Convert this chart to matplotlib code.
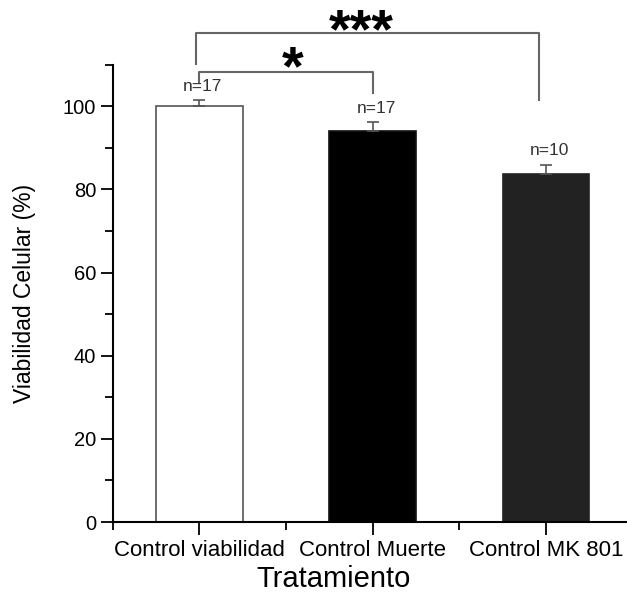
import matplotlib
matplotlib.use("Agg")
import matplotlib.pyplot as plt
import numpy as np
from matplotlib.ticker import MultipleLocator, FixedLocator

plt.rcParams["font.family"] = ["Liberation Sans", "DejaVu Sans"]

groups = ["Control viabilidad", "Control Muerte", "Control MK 801"]
viability = [100.0, 94.1, 83.7]
sem = [1.4, 2.0, 2.2]
n_labels = ["n=17", "n=17", "n=10"]
bar_colors = ["white", "black", "#222222"]
edge_colors = ["#555555", "#111111", "#222222"]

# significance brackets: (x_left, x_right, y_top, y_left_end, y_right_end, text, text_x, text_y)
brackets = [
    (0.0, 1.0, 108.2, 105.6, 103.2, "*", 0.536, 105.3),
    (-0.02, 1.96, 117.6, 110.1, 101.6, "***", 0.934, 114.2),
]

fig = plt.figure(figsize=(6.27, 5.92), dpi=100)
ax = fig.add_axes([0.1797, 0.1182, 0.8296, 0.7725])

x = np.arange(len(groups))
ax.bar(x, viability, width=0.5, color=bar_colors, edgecolor=edge_colors, linewidth=1.2, zorder=2)
ax.errorbar(x, viability, yerr=[np.zeros(len(sem)), sem], fmt="none", ecolor="#555555",
            elinewidth=1.2, capsize=4, capthick=1.2, zorder=3)

for xi, v, e, lab in zip(x, viability, sem, n_labels):
    ax.text(xi + 0.02, v + e + 1.6, lab, ha="center", va="bottom", fontsize=12.5, color="#333333")

for xl, xr, yt, yl, yr, txt, tx, ty in brackets:
    ax.plot([xl, xl, xr, xr], [yl, yt, yt, yr], color="#666666", linewidth=1.5, clip_on=False)
    ax.text(tx, ty, txt, ha="center", va="baseline", fontsize=40, fontweight="bold",
            color="black", clip_on=False)

ax.set_xlim(-0.5, 2.5)
ax.set_ylim(0, 110)
ax.yaxis.set_major_locator(MultipleLocator(20))
ax.yaxis.set_minor_locator(FixedLocator([10, 30, 50, 70, 90, 110]))
ax.set_xticks(x)
ax.set_xticklabels(groups)
ax.xaxis.set_minor_locator(FixedLocator([-0.5, 0.5, 1.5, 2.5]))

ax.spines["top"].set_visible(False)
ax.spines["right"].set_visible(False)
for s in ("left", "bottom"):
    ax.spines[s].set_linewidth(1.5)
ax.tick_params(axis="both", which="major", length=9, width=1.3, direction="out")
ax.tick_params(axis="both", which="minor", length=5.5, width=1.3, direction="out")
ax.tick_params(axis="y", labelsize=14.5, pad=3)
ax.tick_params(axis="x", labelsize=16, pad=4)

ax.set_ylabel("Viabilidad Celular (%)", fontsize=16.5)
ax.set_xlabel("Tratamiento", fontsize=21)
ax.yaxis.set_label_coords(-0.148, 0.5)
ax.xaxis.set_label_coords(0.4256, -0.094)

fig.savefig("out.png", dpi=100)
